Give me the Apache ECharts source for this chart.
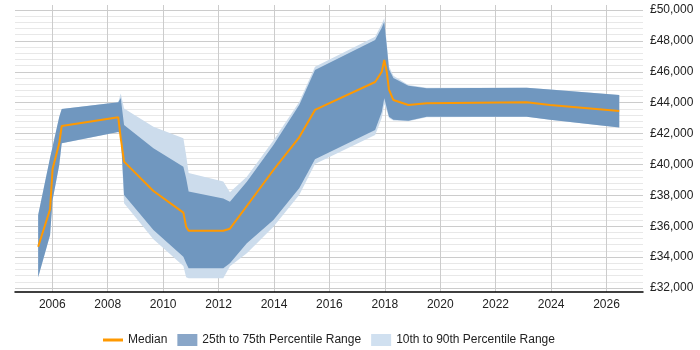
<!DOCTYPE html>
<html>
<head>
<meta charset="utf-8">
<script src="https://cdn.jsdelivr.net/npm/echarts@6/dist/echarts.min.js"></script>
<style>html,body{margin:0;padding:0;background:#fff}#c{width:700px;height:350px}</style>
</head>
<body>
<div id="c"></div>
<script>
// decimal years of each data point
const years  = [2005.49, 2005.92, 2006.01, 2006.25, 2006.34, 2008.38, 2008.47, 2008.59, 2009.65, 2010.73, 2010.83, 2010.92, 2012.17, 2012.41, 2013.02, 2013.98, 2014.91, 2015.48, 2017.65, 2017.89, 2017.98, 2018.07, 2018.15, 2018.31, 2018.85, 2019.51, 2023.12, 2023.96, 2026.46];
const p10    = [32700, 35430, 37700, 39960, 41370, 42100, 41900, 37480, 35150, 33420, 32700, 32630, 32630, 33400, 34250, 35970, 38020, 40030, 41900, 43000, 43900, 43500, 43000, 42850, 42800, 43050, 43090, 42900, 42400];
const p25    = [32700, 35430, 37700, 39960, 41370, 42100, 41950, 38020, 35760, 34030, 33600, 33280, 33280, 33600, 34890, 36400, 38460, 40330, 42230, 43400, 44280, 43650, 43090, 42900, 42830, 43090, 43090, 42900, 42400];
const median = [34670, 37100, 39700, 41370, 42490, 43050, 41700, 40180, 38280, 36880, 35970, 35710, 35710, 35840, 37310, 39640, 41760, 43530, 45340, 46000, 46760, 46000, 44850, 44170, 43850, 43960, 44020, 43850, 43460];
const p75    = [36730, 40430, 41150, 43070, 43590, 44020, 44300, 42550, 41050, 39850, 39100, 38240, 37800, 37590, 38880, 41260, 43850, 46120, 48060, 48850, 49240, 47670, 46170, 45600, 45100, 44930, 44970, 44850, 44500];
const p90    = [36730, 40430, 41150, 43070, 43590, 44020, 44600, 43630, 42440, 41690, 40600, 39450, 38900, 38200, 39210, 41550, 44050, 46330, 48270, 49100, 49460, 47850, 46350, 45750, 45150, 44960, 44970, 44850, 44500];

const xTickYears  = [2006, 2008, 2010, 2012, 2014, 2016, 2018, 2020, 2022, 2024, 2026];
const yTickValues = [32000, 34000, 36000, 38000, 40000, 42000, 44000, 46000, 48000, 50000];
const yMinorStep = 400;

const legendNames = ['Median', '25th to 75th Percentile Range', '10th to 90th Percentile Range'];

const yGridValues = [];
for (let v = yTickValues[0]; v <= yTickValues[yTickValues.length - 1]; v += yMinorStep) yGridValues.push(v);

const pair = arr => years.map((y, i) => [y, arr[i]]);

// band drawn as one polygon through the cartesian scales
function bandSeries(name, lo, hi, fill, z) {
  return {
    name: name, type: 'custom', coordinateSystem: 'cartesian2d', silent: true, z: z,
    clip: true,
    data: years.map((y, i) => [y, lo[i], hi[i]]),
    encode: { x: 0, y: [1, 2] },
    itemStyle: { color: fill },
    renderItem: function (params, api) {
      if (params.dataIndex !== 0) return null;
      const top = years.map((y, i) => api.coord([y, hi[i]]));
      const bot = years.map((y, i) => api.coord([y, lo[i]])).reverse();
      return { type: 'polygon', shape: { points: top.concat(bot) }, style: { fill: fill, stroke: null } };
    }
  };
}

const chart = echarts.init(document.getElementById('c'), null, { renderer: 'canvas' });
chart.setOption({
  animation: false,
  backgroundColor: '#ffffff',
  textStyle: { fontFamily: 'Liberation Sans, Arial, sans-serif' },
  grid: { left: 15, right: 57, top: 5, bottom: 58, containLabel: false, outerBoundsMode: 'none' },
  legend: {
    left: 98, top: 329, itemWidth: 20, itemHeight: 12, itemGap: 10,
    textStyle: { fontSize: 12, color: '#222' },
    selectedMode: false,
    data: [
      { name: legendNames[0], icon: 'path://M0,0L20,0L20,3L0,3Z', itemStyle: { color: '#ff9900' } },
      { name: legendNames[1], icon: 'rect', itemStyle: { color: '#89a6c8' } },
      { name: legendNames[2], icon: 'rect', itemStyle: { color: '#d0e0f0' } }
    ]
  },
  xAxis: {
    type: 'value', min: 2004.654, max: 2027.317,
    axisLine: { show: true, onZero: false, lineStyle: { color: '#000', width: 1.5 } },
    axisTick: { show: false, customValues: xTickYears },
    axisLabel: { customValues: xTickYears, formatter: v => String(v), fontSize: 12, color: '#222', margin: 7 },
    splitLine: { show: true, lineStyle: { color: '#cccccc', width: 1 } }
  },
  yAxis: {
    type: 'value', position: 'right', min: 31740, max: 50325,
    axisLine: { show: false },
    axisTick: { show: false, customValues: yGridValues },
    axisLabel: {
      customValues: yTickValues, fontSize: 12, color: '#222', margin: 7,
      formatter: v => '£' + v.toLocaleString('en-GB')
    },
    splitLine: { show: true, lineStyle: { color: ['#cccccc', '#e8e8e8', '#e8e8e8', '#e8e8e8', '#e8e8e8'], width: 1 } }
  },
  series: [
    bandSeries(legendNames[2], p10, p90, '#ccdcec', 2),
    bandSeries(legendNames[1], p25, p75, '#7097bf', 3),
    { name: legendNames[0], type: 'line', symbol: 'none', showSymbol: false, silent: true, data: pair(median),
      lineStyle: { color: '#ff9900', width: 2 }, itemStyle: { color: '#ff9900' }, emphasis: { disabled: true }, z: 5 }
  ]
});
</script>
</body>
</html>
